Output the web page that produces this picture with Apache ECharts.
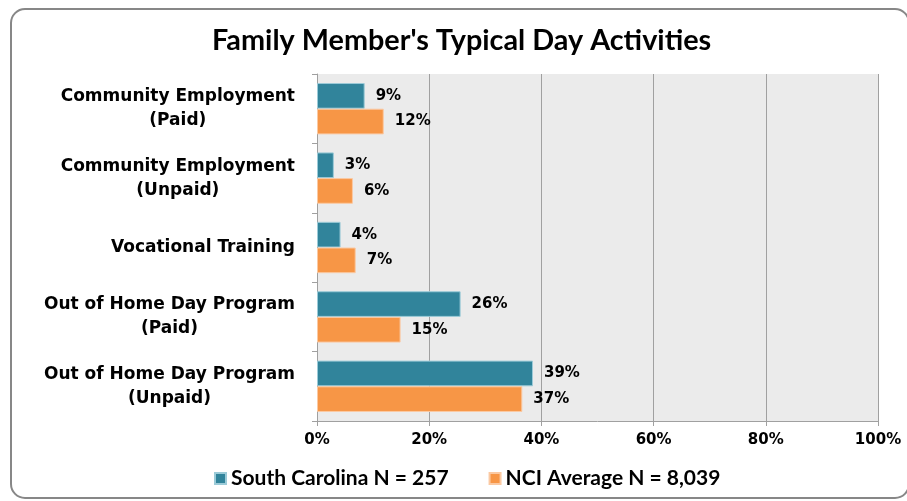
<!DOCTYPE html>
<html>
<head>
<meta charset="utf-8">
<script src="https://cdn.jsdelivr.net/npm/echarts@6/dist/echarts.min.js"></script>
<style>
  html, body { margin: 0; padding: 0; background: #fff; }
  #chart { width: 907px; height: 501px; }
</style>
</head>
<body>
<div id="chart"></div>
<script>
const categories = [
  'Community Employment\n(Paid)',
  'Community Employment\n(Unpaid)',
  'Vocational Training',
  'Out of Home Day Program\n(Paid)',
  'Out of Home Day Program\n(Unpaid)'
]
const southCarolina = [8.5, 3.0, 4.2, 25.6, 38.5]
const nciAverage = [11.9, 6.4, 6.9, 14.9, 36.6]
const seriesNames = ['South Carolina N = 257', 'NCI Average N = 8,039']
const xTicks = [0, 20, 40, 60, 80, 100]

const chart = echarts.init(document.getElementById('chart'))
const colors = ['#31849b', '#f79646']

const barLabel = {
  show: true,
  position: 'right',
  distance: 11,
  color: '#000',
  fontFamily: 'DejaVu Sans',
  fontWeight: 'bold',
  fontSize: 15,
  formatter: (p) => Math.round(p.value) + '%'
}

const option = {
  color: colors,
  animation: false,
  graphic: [
    {
      type: 'rect',
      shape: { x: 11, y: 9, width: 898, height: 489, r: 14 },
      style: { fill: 'none', stroke: '#878787', lineWidth: 2 },
      z: -10
    }
  ],
  title: {
    text: "Family Member's Typical Day Activities",
    left: 207,
    top: 21,
    textStyle: {
      fontFamily: 'Lato',
      fontWeight: 'bold',
      fontSize: 28.8,
      color: '#000'
    }
  },
  legend: {
    data: seriesNames,
    bottom: 7,
    left: 209,
    icon: 'rect',
    itemWidth: 11,
    itemHeight: 11,
    itemGap: 40,
    textStyle: {
      fontFamily: 'Lato',
      fontWeight: 'bold',
      fontSize: 21,
      color: '#000'
    }
  },
  grid: {
    left: 317,
    right: 29,
    top: 74,
    bottom: 80,
    show: true,
    backgroundColor: '#ebebeb',
    borderWidth: 0
  },
  xAxis: {
    type: 'value',
    min: 0,
    max: 100,
    interval: 20,
    axisLine: { show: true, lineStyle: { color: '#a0a0a0' } },
    axisTick: { show: true, length: 5, lineStyle: { color: '#a0a0a0' } },
    splitLine: { show: true, lineStyle: { color: '#a0a0a0', width: 1 } },
    axisLabel: {
      margin: 12,
      color: '#000',
      fontFamily: 'DejaVu Sans',
      fontWeight: 'bold',
      fontSize: 15,
      formatter: (v) => (xTicks.includes(v) ? v + '%' : '')
    }
  },
  yAxis: {
    type: 'category',
    inverse: true,
    data: categories,
    axisLine: { show: true, lineStyle: { color: '#a0a0a0' } },
    axisTick: { show: true, length: 5, lineStyle: { color: '#a0a0a0' } },
    axisLabel: {
      margin: 22,
      align: 'right',
      formatter: (v) => v.split('\n').map((s) => '{a|' + s + '}').join('\n'),
      rich: {
        a: {
          align: 'center',
          color: '#000',
          fontFamily: 'DejaVu Sans',
          fontWeight: 'bold',
          fontSize: 17,
          lineHeight: 24
        }
      }
    }
  },
  series: [
    {
      name: seriesNames[0],
      type: 'bar',
      data: southCarolina,
      barGap: 0,
      barCategoryGap: '26%',
      itemStyle: { borderColor: '#9ccbd8', borderWidth: 1 },
      label: barLabel
    },
    {
      name: seriesNames[1],
      type: 'bar',
      data: nciAverage,
      barGap: 0,
      barCategoryGap: '26%',
      itemStyle: { borderColor: '#fbc9a2', borderWidth: 1 },
      label: barLabel
    }
  ]
}

option && chart.setOption(option)
</script>
</body>
</html>
